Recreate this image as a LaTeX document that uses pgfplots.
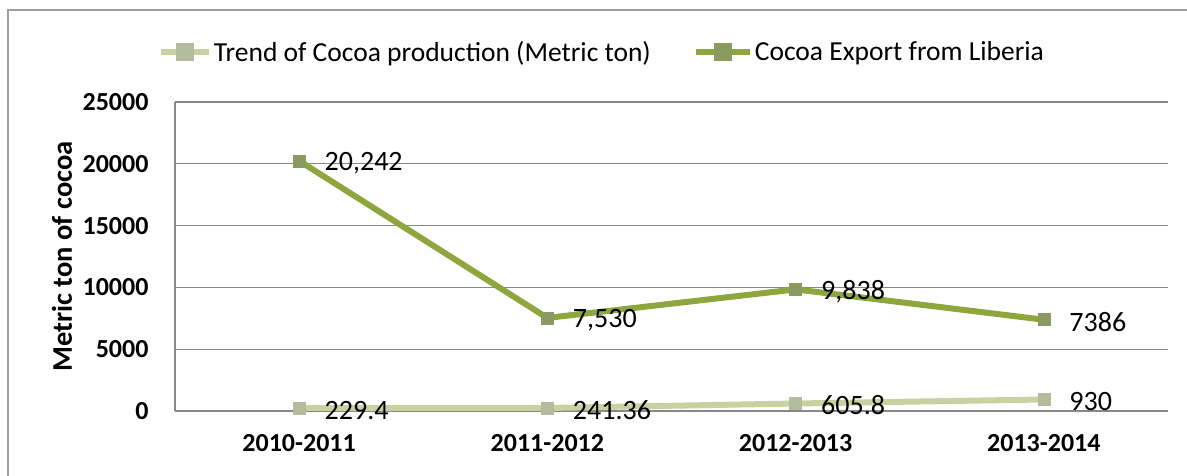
\documentclass[border=0pt]{standalone}
\usepackage{pgfplots}
\pgfplotsset{compat=1.18}
\usepackage{fontspec}
\setmainfont{Carlito}
\definecolor{prodline}{HTML}{C8D2A0}
\definecolor{prodmark}{HTML}{B5BC9E}
\definecolor{expline}{HTML}{8FA63E}
\definecolor{expmark}{HTML}{8A9A60}
\definecolor{gridgray}{HTML}{888888}
\begin{document}
\begin{tikzpicture}
\useasboundingbox (-175pt,-65pt) rectangle (1012pt,411pt);
\draw[gray!75, line width=1.5pt] (-167pt,-65pt) -- (-167pt,401pt) -- (1012pt,401pt);
\begin{axis}[
  anchor=south west,
  width=993pt, height=309pt, scale only axis,
  xmin=-0.5, xmax=3.5, ymin=0, ymax=25000,
  xtick={0,1,2,3},
  xticklabels={2010-2011,2011-2012,2012-2013,2013-2014},
  ytick={0,5000,10000,15000,20000,25000},
  scaled y ticks=false,
  /pgf/number format/assume math mode=true,
  /pgf/number format/fixed,
  /pgf/number format/1000 sep={},
  ymajorgrids, grid style={gridgray, line width=1.2pt},
  axis x line=bottom, axis y line=left,
  axis line style={-, gridgray, line width=1.2pt},
  major tick length=0pt,
  tick label style={font=\fontsize{26}{30}\selectfont\bfseries},
  yticklabel style={xshift=-23pt},
  xticklabel style={yshift=-20pt},
  ylabel={Metric ton of cocoa},
  ylabel style={font=\fontsize{28.5}{32}\selectfont\bfseries, at={(axis description cs:-0.1138,0.5)}, anchor=center},
  legend columns=2,
  legend style={draw=none, fill=none, at={(0.43,1.162)}, anchor=center,
    font=\fontsize{27.5}{32}\selectfont, /tikz/every even column/.append style={column sep=40pt}},
  legend cell align=left,
  nodes near coords,
  point meta=explicit symbolic,
  every node near coord/.append style={anchor=west, xshift=22pt, yshift=-2pt, font=\fontsize{28}{32}\selectfont, text=black},
]
\addplot[prodline, line width=6pt, mark=square*, mark size=6pt,
  mark options={prodmark, fill=prodmark, line width=0.5pt},
  legend image code/.code={\draw[prodline, line width=6pt] (0pt,0pt) -- (48pt,0pt);
    \fill[prodmark] (18pt,-6pt) rectangle (30pt,6pt);}]
  table[meta=label] {
x y label
0 229.4 229.4
1 241.36 241.36
2 605.8 605.8
3 930 930
};
\addlegendentry{Trend of Cocoa production (Metric ton)}
\addplot[expline, line width=6pt, mark=square*, mark size=6pt,
  mark options={expmark, fill=expmark, line width=0.5pt},
  legend image code/.code={\draw[expline, line width=6pt] (0pt,0pt) -- (54pt,0pt);
    \fill[expmark] (21pt,-6pt) rectangle (33pt,6pt);}]
  table[meta=label] {
x y label
0 20242 20,242
1 7530 7,530
2 9838 9,838
3 7386 7386
};
\addlegendentry{Cocoa Export from Liberia}
\end{axis}
\end{tikzpicture}
\end{document}
